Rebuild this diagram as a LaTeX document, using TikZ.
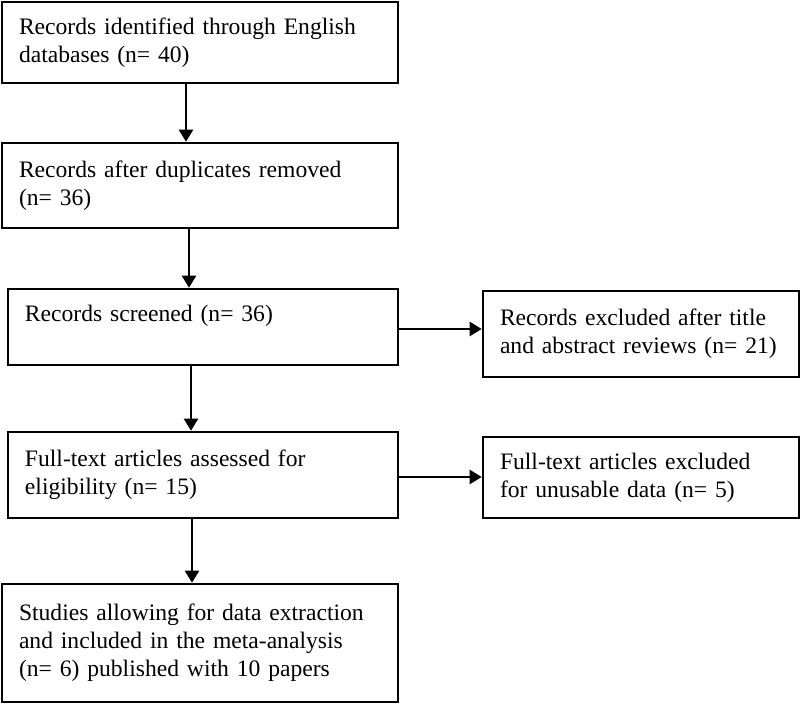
\documentclass[tikz,border=0pt]{standalone}
\usepackage{fontspec}
\setmainfont[WordSpace=0.75]{Liberation Serif}
\usetikzlibrary{arrows.meta}

\newcommand\leftw{181pt}
\newcommand\narrw{178pt}
\newcommand\rightw{141pt}
\newcommand\pad{8.5pt}

\tikzset{
  box/.style={draw,line width=1.3pt,align=left,inner xsep=\pad,inner ysep=0pt,
    font=\fontsize{11.8}{14}\selectfont},
  arr/.style={line width=1.2pt,-{Triangle[length=6pt,width=7pt]}}
}

\begin{document}
\begin{tikzpicture}[x=0.5pt,y=-0.5pt]
    \useasboundingbox (0,0) rectangle (800,704);

    \node[box,text width=\leftw,minimum height=40.5pt] (b1) at (200,42.5)
      {Records identified through English\\ databases (n= 40)};
    \node[box,text width=\leftw,minimum height=42.5pt] (b2) at (200,185.5)
      {Records after duplicates removed\\ (n= 36)};
    \node[box,text width=\narrw,minimum height=38pt] (b3) at (203,327)
      {Records screened (n= 36)\\ ~};
    \node[box,text width=\narrw,minimum height=43pt] (b4) at (203,475)
      {Full-text articles assessed for\\ eligibility (n= 15)};
    \node[box,text width=\leftw,minimum height=59pt] (b5) at (200,643)
      {Studies allowing for data extraction\\ and included in the meta-analysis\\ (n= 6) published with 10 papers};

    \node[box,text width=\rightw,minimum height=43pt] (r1) at (641,334)
      {Records excluded after title\\ and abstract reviews (n= 21)};
    \node[box,text width=\rightw,minimum height=40.5pt] (r2) at (641,477.5)
      {Full-text articles excluded\\ for unusable data (n= 5)};

    \draw[arr] ([xshift=-7pt]b1.south) -- ([xshift=-7pt]b1.south |- b2.north);
    \draw[arr] ([xshift=-5.5pt]b2.south) -- ([xshift=-5.5pt]b2.south |- b3.north);
    \draw[arr] ([xshift=-6pt]b3.south) -- ([xshift=-6pt]b3.south |- b4.north);
    \draw[arr] ([xshift=-5.5pt]b4.south) -- ([xshift=-5.5pt]b4.south |- b5.north);

    \draw[arr] ([yshift=-1pt]b3.east) -- ([yshift=-1pt]b3.east -| r1.west);
    \draw[arr] ([yshift=-1pt]b4.east) -- ([yshift=-1pt]b4.east -| r2.west);
  \end{tikzpicture}
\end{document}
